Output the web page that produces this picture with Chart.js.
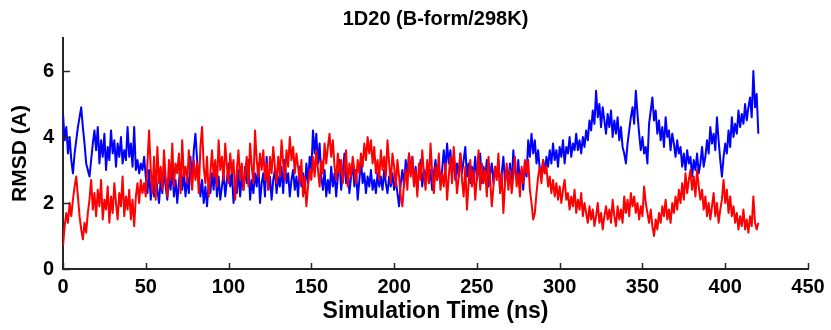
<!DOCTYPE html>
<html>
<head>
<meta charset="utf-8">
<script src="https://cdn.jsdelivr.net/npm/chart.js@4.4.1/dist/chart.umd.min.js"></script>
<style>
  html, body { margin: 0; padding: 0; background: #fff; }
  #wrap { width: 831px; height: 330px; }
</style>
</head>
<body>
<div id="wrap"><canvas id="rmsdChart" width="831" height="330"></canvas></div>
<script>
// Valores (RMSD en A, un punto por ns, de 0 a 420 ns)
const timeStepNs = 1;
const chartTitle = "1D20 (B-form/298K)";
const xTicks = [0, 50, 100, 150, 200, 250, 300, 350, 400, 450];
const yTicks = [0, 2, 4, 6];

// serie azul
const rmsdBlue = [
  4.7, 3.9, 4.3, 3.5, 4.0, 3.3, 2.9, 3.5, 3.9, 4.3,
  4.6, 4.9, 4.3, 3.8, 3.2, 3.0, 2.8, 3.3, 3.8, 4.2,
  3.6, 4.3, 3.2, 3.9, 3.4, 4.1, 3.0, 3.7, 3.3, 4.2,
  3.5, 3.9, 3.1, 3.8, 3.4, 4.0, 3.2, 3.6, 3.3, 4.3,
  3.4, 3.8, 3.1, 4.3, 3.0, 3.3, 2.9, 3.2, 3.0, 3.4,
  2.8, 2.3, 3.0, 2.1, 2.6, 2.2, 2.9, 2.4, 2.0, 2.7,
  2.3, 3.0, 2.5, 2.1, 2.8, 2.4, 3.1, 2.2, 2.7, 2.0,
  2.6, 3.2, 2.4, 2.9, 2.2, 2.8, 2.3, 3.4, 2.6, 3.6,
  4.1, 3.3, 2.8, 2.2, 2.7, 2.0, 2.5, 1.9, 2.6, 2.3,
  2.9, 2.4, 3.1, 2.2, 2.8, 2.1, 2.5, 2.9, 2.2, 2.7,
  3.2, 2.5, 2.9, 2.0, 2.6, 2.3, 3.0, 2.2, 2.8, 2.4,
  3.1, 2.6, 3.3, 2.1, 2.7, 2.3, 2.9, 2.5, 3.2, 2.0,
  2.6, 2.9, 2.2, 3.4, 2.4, 2.8, 2.1, 2.7, 3.0, 2.3,
  2.8, 2.5, 3.1, 2.3, 3.3, 2.6, 2.9, 2.2, 2.7, 3.0,
  2.4, 2.8, 2.2, 3.1, 2.5, 2.9, 2.3, 3.2, 2.6, 3.4,
  3.0, 4.2, 3.5, 4.1, 3.2, 3.8, 2.8, 2.4, 3.0, 2.2,
  2.7, 2.3, 3.1, 2.5, 2.9, 2.2, 2.8, 3.3, 2.4, 2.9,
  3.5, 2.6, 3.0, 2.3, 2.8, 3.2, 2.5, 3.0, 2.1, 2.7,
  3.3, 2.6, 2.9, 2.3, 2.8, 2.5, 3.0, 2.4, 2.7, 2.3,
  2.9, 2.5, 2.8, 2.4, 3.0, 2.6, 2.3, 2.8, 2.5, 2.9,
  2.4, 2.7, 2.3, 1.9, 2.6, 3.0, 2.5, 3.3, 2.8, 3.5,
  2.9, 3.4, 2.6, 3.1, 2.4, 2.9, 3.3, 2.5, 3.0, 2.7,
  3.2, 2.6, 3.0, 2.4, 2.9, 3.3, 2.7, 3.1, 2.6, 3.0,
  3.6, 3.0, 3.8, 3.2, 3.6, 2.9, 3.4, 2.7, 3.2, 2.8,
  3.5, 2.9, 3.3, 3.7, 2.8, 3.2, 2.6, 3.1, 2.8, 3.4,
  2.7, 3.0, 3.5, 2.6, 3.1, 2.8, 3.3, 2.5, 2.9, 3.2,
  2.6, 3.1, 2.8, 3.3, 2.4, 2.9, 3.4, 2.6, 3.0, 2.7,
  3.2, 2.5, 3.6, 3.0, 2.7, 3.3, 2.6, 3.0, 2.4, 3.2,
  2.8, 3.9, 3.4, 4.1, 3.5, 3.9, 3.2, 3.6, 3.0, 2.9,
  3.3, 2.9, 3.4, 3.1, 3.6, 3.2, 3.8, 3.3, 3.6, 3.1,
  3.7, 3.4, 3.9, 3.2, 3.7, 3.5, 4.0, 3.4, 3.8, 3.6,
  4.1, 3.6, 3.9, 3.5, 4.0, 3.7, 4.2, 3.9, 4.5, 4.2,
  4.8, 4.4, 5.4, 4.6, 5.0, 4.3, 4.9, 4.5, 4.1, 4.7,
  4.3, 4.8, 4.0, 4.5, 4.1, 4.6, 3.9, 4.3, 3.7, 3.5,
  3.2, 3.8, 4.2, 4.6, 4.9, 4.4, 5.4, 4.7, 4.1, 3.6,
  4.0, 3.5, 3.7, 3.2, 4.4, 4.8, 5.2, 4.5, 4.8, 4.1,
  4.5, 3.9, 4.3, 3.7, 4.6, 4.0, 4.2, 3.6, 4.1, 3.8,
  3.4, 3.9, 3.5, 3.7, 3.1, 3.5, 3.0, 3.6, 3.2, 3.4,
  2.8, 3.3, 3.0, 3.5, 2.9, 3.2, 3.7, 3.1, 3.4, 3.9,
  3.5, 4.3, 3.8, 4.1, 3.6, 4.6, 3.9, 3.3, 2.8, 3.4,
  3.8, 3.5, 4.2, 3.7, 4.6, 4.0, 4.4, 4.1, 4.8, 4.3,
  4.7, 4.4, 5.0, 4.5, 4.9, 5.2, 4.6, 6.0, 4.9, 5.3,
  4.1
];

// serie roja
const rmsdRed = [
  0.7, 1.3, 1.7, 1.4, 2.0, 1.6, 2.1, 2.5, 2.8, 2.2,
  1.6, 1.2, 0.9, 1.4, 1.1, 1.7, 2.1, 2.7, 1.8, 2.3,
  1.6, 2.4, 1.9, 2.7, 1.5, 2.1, 1.8, 2.5, 1.4, 2.2,
  1.7, 2.6, 2.0, 1.5, 2.3, 1.9, 2.8, 1.6, 2.2, 1.8,
  2.4, 1.5, 2.1, 1.3, 2.2, 2.6, 2.0, 2.7, 2.3, 2.6,
  2.2, 3.2, 4.2, 3.0, 2.3, 3.4, 2.1, 3.7, 2.6, 3.1,
  2.4, 3.6, 2.8, 2.2, 3.3, 2.7, 3.8, 2.5, 3.2, 2.9,
  3.5, 2.3, 3.9, 2.8, 3.1, 2.6, 3.6, 2.9, 2.4, 3.3,
  2.7, 3.2, 2.3, 3.7, 4.3, 3.1, 2.6, 3.4, 2.2, 2.9,
  3.6, 2.8, 3.3, 2.5, 3.9, 3.0, 3.4, 2.7, 3.8, 3.1,
  2.6, 3.5, 2.9, 3.3, 2.1, 3.0, 3.6, 2.7, 3.2, 2.4,
  2.9, 3.4, 2.5, 3.8, 3.1, 2.6, 4.2, 3.3, 2.8, 3.5,
  3.0, 3.6, 2.7, 3.2, 2.4, 3.4, 2.9, 3.7, 3.1, 2.6,
  3.4, 2.8, 3.9, 3.2, 2.7, 3.6, 3.1, 4.0, 3.3, 3.7,
  2.9, 3.5, 3.1, 2.6, 3.3, 2.2, 2.8, 1.9, 2.5, 3.0,
  2.7, 3.4, 2.8, 3.6, 3.0, 2.5, 3.3, 2.9, 3.8, 3.2,
  3.7, 4.1, 3.4, 3.9, 3.1, 2.7, 3.5, 2.9, 3.3, 2.6,
  3.0, 3.6, 2.5, 3.2, 2.8, 3.4, 3.0, 2.6, 3.3, 2.9,
  3.5, 3.1, 3.8, 3.3, 4.0, 3.5, 3.9, 3.2, 3.7, 2.9,
  3.3, 2.7, 3.6, 3.0, 3.4, 2.8, 3.9, 3.2, 2.6, 3.5,
  3.1, 2.5, 3.3, 2.8, 2.2, 1.9, 2.6, 3.0, 2.4, 3.5,
  2.8, 3.4, 2.5, 3.0, 2.2, 3.2, 2.7, 3.6, 2.9, 2.4,
  3.3, 2.6, 3.8, 2.9, 2.3, 3.1, 2.7, 3.5, 2.4, 2.9,
  2.5, 3.2, 2.1, 2.8, 3.4, 2.6, 3.7, 3.0, 2.3, 2.8,
  3.5, 2.7, 2.2, 3.1, 1.8, 2.6, 3.3, 2.5, 3.0, 2.1,
  2.8, 3.6, 2.4, 3.2, 2.6, 3.0, 2.2, 3.4, 2.7, 1.9,
  2.5, 3.1, 2.7, 3.5, 2.3, 2.9, 1.7, 2.6, 3.2, 2.4,
  3.0, 2.3, 2.8, 3.4, 2.5, 2.9, 2.2, 3.1, 2.6, 3.3,
  2.9, 3.3, 2.4, 2.0, 1.5, 1.7, 2.3, 2.8, 3.1, 2.6,
  3.3, 2.9, 3.1, 2.5, 2.8, 2.3, 2.7, 2.2, 2.6, 2.1,
  2.5, 2.0, 2.4, 2.7, 2.1, 2.3, 1.8, 2.2, 1.9, 2.4,
  1.7, 2.1, 1.8, 2.3, 1.6, 2.0, 1.7, 1.4, 1.9, 1.5,
  1.8, 1.3, 1.6, 2.0, 1.4, 1.7, 1.2, 1.6, 1.9, 1.5,
  1.8, 1.4, 2.1, 1.6, 1.3, 1.9, 1.5, 1.8, 1.4, 2.2,
  1.7, 2.1, 1.6, 2.3, 1.9, 2.2, 1.7, 2.0, 1.5, 1.9,
  1.6, 2.5, 2.0, 1.7, 1.4, 1.8, 1.3, 1.0, 1.5, 1.2,
  1.7, 1.4, 1.9, 1.6, 2.1, 1.5, 1.8, 1.4, 2.0, 1.7,
  2.2, 1.8, 2.4, 2.0, 2.6, 2.1, 2.9, 2.3, 2.7, 3.0,
  2.4, 2.8, 2.2, 3.0, 2.5, 2.1, 2.4, 1.8, 2.2, 1.6,
  2.0, 1.5, 1.9, 2.3, 1.6, 2.0, 1.4, 1.8, 2.1, 2.7,
  2.0, 2.4, 1.7, 2.2, 1.6, 1.9, 1.4, 1.7, 1.2, 1.6,
  1.3, 1.8, 1.2, 1.5, 1.1, 1.6, 1.3, 2.2, 1.4, 1.2,
  1.4
];

const AXIS_COLOR = "#262626";
const FONT_FAMILY = "'Liberation Sans', Arial, Helvetica, sans-serif";

// convierte una serie en puntos {x, y} sobre el eje de tiempo
function toPoints(values) {
    return values.map((v, i) => ({ x: i * timeStepNs, y: v }));
}

// marcas de los ejes hacia dentro y titulo centrado sobre el area del grafico
const axisDecor = {
    id: "axisDecor",
    afterDraw(chart) {
        const { ctx, chartArea, scales } = chart;
        ctx.save();
        ctx.strokeStyle = AXIS_COLOR;
        ctx.lineWidth = 1.5;
        scales.x.ticks.forEach(t => {
            const px = Math.round(scales.x.getPixelForValue(t.value)) + 0.5;
            ctx.beginPath();
            ctx.moveTo(px, chartArea.bottom);
            ctx.lineTo(px, chartArea.bottom - 6);
            ctx.stroke();
        });
        scales.y.ticks.forEach(t => {
            const py = Math.round(scales.y.getPixelForValue(t.value)) + 0.5;
            ctx.beginPath();
            ctx.moveTo(chartArea.left, py);
            ctx.lineTo(chartArea.left + 7, py);
            ctx.stroke();
        });

        // titulo
        ctx.fillStyle = "#000";
        ctx.font = "bold 20px " + FONT_FAMILY;
        ctx.textAlign = "center";
        ctx.textBaseline = "middle";
        ctx.fillText(chartTitle, (chartArea.left + chartArea.right) / 2, 19);
        ctx.restore();
    }
};

function initRmsdChart() {
    const canvas = document.getElementById("rmsdChart");

    new Chart(canvas, {
        type: "line",
        data: {
            datasets: [
                {
                    label: "rojo",
                    data: toPoints(rmsdRed),
                    borderColor: "#ff0000",
                    borderWidth: 2,
                    borderJoinStyle: "round",
                    pointRadius: 0,
                    tension: 0,
                    order: 1
                },
                {
                    label: "azul",
                    data: toPoints(rmsdBlue),
                    borderColor: "#0000ff",
                    borderWidth: 2,
                    borderJoinStyle: "round",
                    pointRadius: 0,
                    tension: 0,
                    order: 2
                }
            ]
        },
        options: {
            responsive: false,
            animation: false,
            layout: { padding: { left: 0, right: 23, top: 38, bottom: 0 } },
            plugins: {
                legend: { display: false },
                tooltip: { enabled: false },
                title: { display: false }
            },
            scales: {
                x: {
                    type: "linear",
                    min: 0,
                    max: 450,
                    afterBuildTicks: axis => { axis.ticks = xTicks.map(v => ({ value: v })); },
                    afterFit: scale => { scale.height = 61; },
                    grid: { display: false, drawTicks: false },
                    border: { display: true, color: AXIS_COLOR, width: 2 },
                    ticks: {
                        color: "#000",
                        padding: 6,
                        maxRotation: 0,
                        font: { family: FONT_FAMILY, size: 20, weight: "bold" }
                    },
                    title: {
                        display: true,
                        text: "Simulation Time (ns)",
                        color: "#000",
                        font: { family: FONT_FAMILY, size: 23, weight: "bold", lineHeight: 1.2 },
                        padding: { top: 0, bottom: 5 }
                    }
                },
                y: {
                    min: 0,
                    max: 7,
                    afterBuildTicks: axis => { axis.ticks = yTicks.map(v => ({ value: v })); },
                    afterFit: scale => { scale.width = 63; },
                    grid: { display: false, drawTicks: false },
                    border: { display: true, color: AXIS_COLOR, width: 2 },
                    ticks: {
                        color: "#000",
                        padding: 9,
                        font: { family: FONT_FAMILY, size: 20, weight: "bold" }
                    },
                    title: {
                        display: true,
                        text: "RMSD (A)",
                        color: "#000",
                        font: { family: FONT_FAMILY, size: 21, weight: "bold", lineHeight: 1.2 },
                        padding: { top: 8, bottom: 0 }
                    }
                }
            }
        },
        plugins: [axisDecor]
    });
}

document.addEventListener("DOMContentLoaded", initRmsdChart);
</script>
</body>
</html>
